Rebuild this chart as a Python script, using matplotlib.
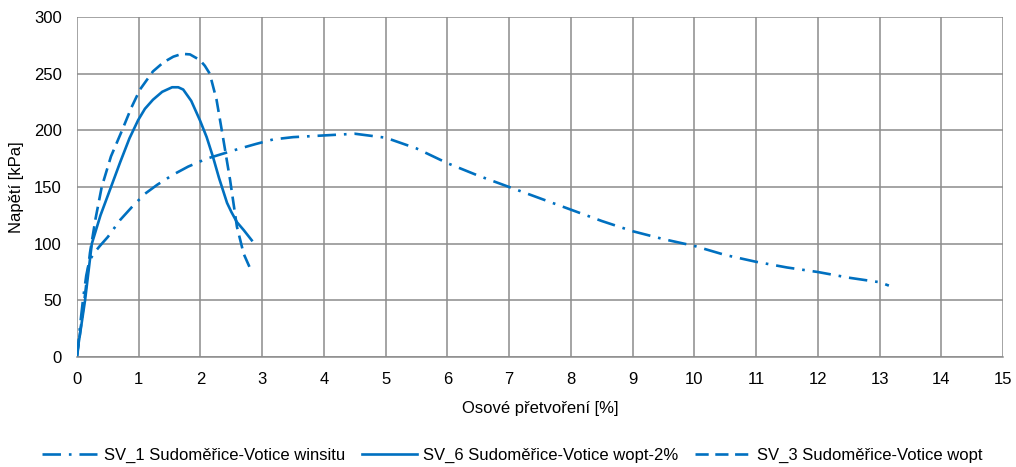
import matplotlib.pyplot as plt

plt.rcParams['font.family'] = ['Liberation Sans', 'DejaVu Sans']

COLOR = '#0070C0'

# SV_1 Sudoměřice-Votice winsitu (dash-dot)
sv1_x = [0.0, 0.05, 0.1, 0.15, 0.2, 0.28, 0.37, 0.5, 0.7, 0.9, 1.1, 1.3, 1.56, 1.8,
         2.1, 2.4, 2.64, 2.9, 3.18, 3.5, 4.0, 4.5, 5.0, 5.5, 6.0, 6.5, 7.0, 7.5,
         8.0, 8.5, 9.0, 9.5, 10.0, 10.5, 11.0, 11.5, 12.0, 12.5, 13.0, 13.15]
sv1_y = [0, 28, 52, 72, 85, 92, 98, 106, 121, 133, 144, 152, 161, 168,
         175, 180, 184, 188, 192, 194, 195.5, 197, 193.5, 184, 171, 160, 150, 140,
         130, 120, 111, 104, 98, 90, 84, 79, 75, 70, 66, 63]

# SV_6 Sudoměřice-Votice wopt-2% (solid)
sv6_x = [0.0, 0.07, 0.13, 0.24, 0.38, 0.53, 0.7, 0.85, 0.99, 1.1, 1.23, 1.38, 1.54,
         1.64, 1.72, 1.85, 1.99, 2.1, 2.2, 2.3, 2.43, 2.5, 2.59, 2.7, 2.83]
sv6_y = [3, 28, 50, 100, 125, 147, 172, 193, 209, 219, 227, 234, 238,
         238, 236, 226, 209, 194, 177, 158, 136, 128, 119, 112, 103]

# SV_3 Sudoměřice-Votice wopt (dashed)
sv3_x = [0.0, 0.07, 0.13, 0.21, 0.3, 0.4, 0.55, 0.73, 0.88, 1.02, 1.23, 1.4, 1.56,
         1.7, 1.83, 1.99, 2.07, 2.15, 2.26, 2.37, 2.48, 2.59, 2.7, 2.83]
sv3_y = [0, 30, 55, 92, 122, 150, 177, 200, 220, 236, 252, 260, 265,
         267.5, 267, 262, 257, 250, 227, 192, 156, 115, 91, 75]

x_ticks = list(range(0, 16))
y_ticks = list(range(0, 301, 50))

fig = plt.figure(figsize=(10.16, 4.67), dpi=100)
ax = fig.add_axes([0.0758, 0.2355, 0.9115, 0.7281])

ax.plot(sv1_x, sv1_y, color=COLOR, lw=1.9, dashes=(7, 3, 1, 3),
        label='SV_1 Sudoměřice-Votice winsitu')
ax.plot(sv6_x, sv6_y, color=COLOR, lw=1.9, label='SV_6 Sudoměřice-Votice wopt-2%')
ax.plot(sv3_x, sv3_y, color=COLOR, lw=1.9, dashes=(5, 2.5),
        label='SV_3 Sudoměřice-Votice wopt')

ax.set_xlim(0, 15)
ax.set_ylim(0, 300)
ax.set_xticks(x_ticks)
ax.set_yticks(y_ticks)
ax.grid(True, color='#8c8c8c', lw=1.1)
ax.set_axisbelow(True)
for s in ['top', 'right', 'left']:
    ax.spines[s].set_visible(False)
ax.spines['bottom'].set_color('#8c8c8c')
ax.spines['bottom'].set_linewidth(1.1)
ax.tick_params(length=0, labelsize=12, colors='#000000')
ax.tick_params(axis='x', pad=11)
ax.tick_params(axis='y', pad=11)

ax.set_xlabel('Osové přetvoření [%]', fontsize=12, labelpad=10)
ax.set_ylabel('Napětí [kPa]', fontsize=12, labelpad=7)

ax.legend(loc='center', bbox_to_anchor=(0.47, -0.29), ncol=3, frameon=False,
          fontsize=12, handlelength=3.3, columnspacing=1.0, handletextpad=0.4)

fig.savefig('out.png', dpi=100)
